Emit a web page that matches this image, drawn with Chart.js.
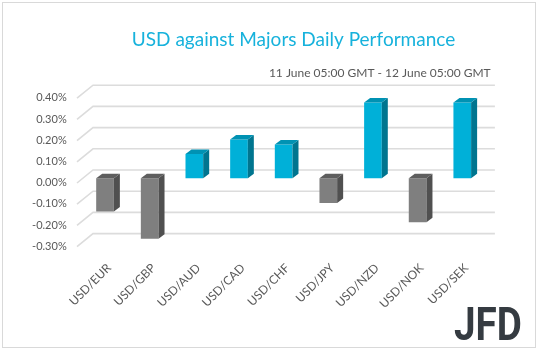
<!DOCTYPE html>
<html>
<head>
<meta charset="utf-8">
<script src="https://cdn.jsdelivr.net/npm/chart.js@4.4.0/dist/chart.umd.min.js"></script>
<style>
  body { margin: 0; background: #ffffff; }
  canvas { display: block; }
</style>
</head>
<body>
<canvas id="perfChart" width="538" height="351"></canvas>
<script>
// pairs and daily % change
const pairs = ["USD/EUR", "USD/GBP", "USD/AUD", "USD/CAD", "USD/CHF", "USD/JPY", "USD/NZD", "USD/NOK", "USD/SEK"];
const changes = [-0.157, -0.285, 0.115, 0.183, 0.160, -0.117, 0.357, -0.207, 0.357];
const yTicks = [-0.3, -0.2, -0.1, 0, 0.1, 0.2, 0.3, 0.4];

const titleText = "USD against Majors Daily Performance";
const subtitleText = "11 June 05:00 GMT - 12 June 05:00 GMT";

const upColor = { front: "#00b0d8", side: "#00758f", top: "#0092b3" };
const downColor = { front: "#7f7f7f", side: "#505050", top: "#5e5e5e" };

// 3D look: depth of the back wall and the bar depth
const wall = { dx: 16, dy: 13, barDx: 6, barDy: 4.5, barShift: 5.7 };

function fmt(v) {
    if (Math.abs(v) < 1e-9) v = 0;
    return v.toFixed(2) + "%";
}

// back wall gridlines with the little diagonal to the front
const wallPlugin = {
    id: "wall",
    beforeDatasetsDraw(chart) {
        const { ctx, chartArea, scales } = chart;
        const y = scales.y;
        ctx.save();
        ctx.strokeStyle = "#dcdcdc";
        ctx.lineWidth = 1.6;
        yTicks.forEach((v) => {
            const py = y.getPixelForValue(v);
            const backY = py - (wall.dy - wall.barDy - 0.2);
            const frontX = chartArea.left - wall.barShift;
            const backX = frontX + wall.dx;
            ctx.beginPath();
            ctx.moveTo(frontX, backY + wall.dy);
            ctx.lineTo(backX, backY);
            ctx.lineTo(chartArea.right + wall.dx - wall.barShift, backY);
            ctx.stroke();
        });
        ctx.restore();
    },
};

// side and top faces of each bar
const boxPlugin = {
    id: "boxes",
    afterDatasetsDraw(chart) {
        const { ctx } = chart;
        const meta = chart.getDatasetMeta(0);
        ctx.save();
        meta.data.forEach((bar, i) => {
            const c = changes[i] >= 0 ? upColor : downColor;
            const half = bar.width / 2;
            const top = Math.min(bar.y, bar.base);
            const bottom = Math.max(bar.y, bar.base);
            const r = bar.x + half;
            const l = bar.x - half;
            ctx.fillStyle = c.side;
            ctx.beginPath();
            ctx.moveTo(r, top);
            ctx.lineTo(r + wall.barDx, top - wall.barDy);
            ctx.lineTo(r + wall.barDx, bottom - wall.barDy);
            ctx.lineTo(r, bottom);
            ctx.closePath();
            ctx.fill();
            ctx.fillStyle = c.top;
            ctx.beginPath();
            ctx.moveTo(l, top);
            ctx.lineTo(l + wall.barDx, top - wall.barDy);
            ctx.lineTo(r + wall.barDx, top - wall.barDy);
            ctx.lineTo(r, top);
            ctx.closePath();
            ctx.fill();
        });
        ctx.restore();
    },
};

// frame, titles and logo
const decorPlugin = {
    id: "decor",
    beforeDraw(chart) {
        const { ctx } = chart;
        ctx.save();
        ctx.strokeStyle = "#d9d9d9";
        ctx.lineWidth = 1;
        ctx.strokeRect(2.5, 2.5, 533, 345);
        ctx.restore();
    },
    afterDraw(chart) {
        const { ctx } = chart;
        ctx.save();
        ctx.fillStyle = "#17b2dc";
        ctx.font = "19px Lato";
        ctx.textAlign = "center";
        ctx.textBaseline = "alphabetic";
        ctx.fillText(titleText, 293.5, 45.7);

        ctx.fillStyle = "#595959";
        ctx.font = "12px Lato";
        ctx.textAlign = "right";
        ctx.textBaseline = "middle";
        ctx.fillText(subtitleText, 490.7, 73.5);

        ctx.fillStyle = "#353b41";
        ctx.font = "bold 46px Roboto";
        ctx.textAlign = "left";
        ctx.textBaseline = "alphabetic";
        ctx.translate(454, 340);
        ctx.scale(0.84, 1);
        ctx.fillText("JFD", 0, 0);
        ctx.restore();
    },
};

const ctx = document.getElementById("perfChart").getContext("2d");

new Chart(ctx, {
    type: "bar",
    data: {
        labels: pairs,
        datasets: [
            {
                data: changes,
                backgroundColor: changes.map((v) => (v >= 0 ? upColor.front : downColor.front)),
                borderWidth: 0,
                categoryPercentage: 1,
                barPercentage: 0.396,
            },
        ],
    },
    options: {
        responsive: false,
        animation: false,
        layout: {
            padding: { top: 93.5, right: 53.4, bottom: 0, left: 0 },
        },
        scales: {
            x: {
                grid: { display: false, drawTicks: false },
                border: { display: false },
                ticks: {
                    autoSkip: false,
                    minRotation: 45,
                    maxRotation: 45,
                    padding: 19,
                    labelOffset: 4,
                    color: "#595959",
                    font: { family: "Lato", size: 12 },
                },
                afterFit(scale) {
                    scale.height = 109.1;
                },
            },
            y: {
                min: -0.3,
                max: 0.4,
                grid: { display: false, drawTicks: false },
                border: { display: false },
                ticks: {
                    stepSize: 0.1,
                    padding: 16,
                    labelOffset: 4.4,
                    color: "#595959",
                    font: { family: "Lato", size: 11 },
                    callback: (v) => fmt(v),
                },
                afterFit(scale) {
                    scale.width = 82.7;
                },
            },
        },
        plugins: {
            legend: { display: false },
            tooltip: { enabled: false },
        },
    },
    plugins: [wallPlugin, boxPlugin, decorPlugin],
});
</script>
</body>
</html>
